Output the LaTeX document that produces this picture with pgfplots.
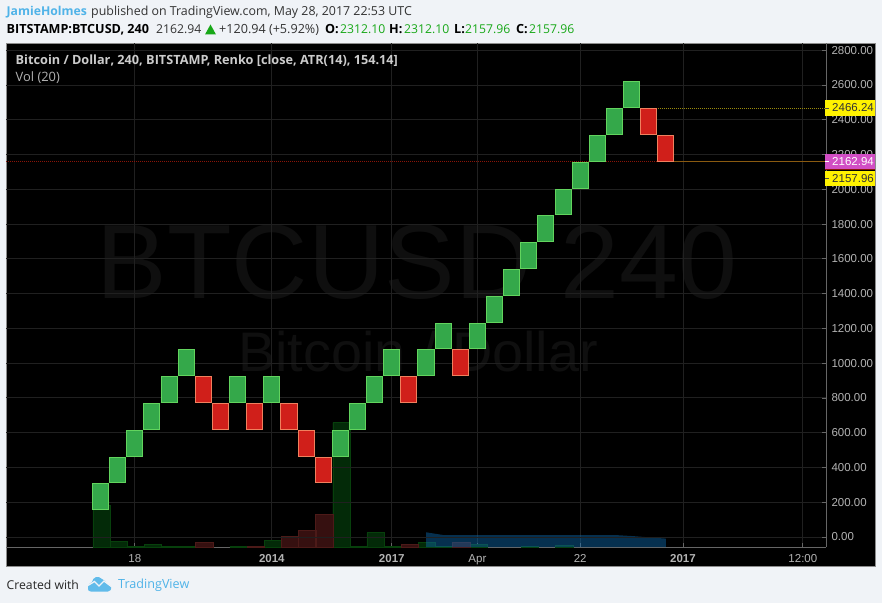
\documentclass[border=0pt]{standalone}
\usepackage{fontspec}
\setmainfont{Open Sans}
\newfontfamily\arial{Liberation Sans}
\usepackage{pgfplots}
\usepackage{pgfplotstable}
\pgfplotsset{compat=1.18}

\definecolor{pagebg}{HTML}{F0F3F7}
\definecolor{gridc}{HTML}{202020}
\definecolor{axisc}{HTML}{666666}
\definecolor{ticktxt}{HTML}{B4B4B4}
\definecolor{upfill}{HTML}{34A84A}
\definecolor{upedge}{HTML}{62D45E}
\definecolor{dnfill}{HTML}{D01F1A}
\definecolor{dnedge}{HTML}{F0805E}
\definecolor{volup}{HTML}{032A08}
\definecolor{volupedge}{HTML}{07400C}
\definecolor{voldn}{HTML}{361010}
\definecolor{voldnedge}{HTML}{4C1A18}
\definecolor{tvblue}{HTML}{4FB3E8}
\definecolor{okgreen}{HTML}{18A818}
\definecolor{magent}{HTML}{D14EC4}
\definecolor{maarea}{HTML}{0E6CB0}
\definecolor{lastline}{HTML}{8A1408}
\definecolor{highline}{HTML}{9A8A0C}
\definecolor{closeline}{HTML}{8A5A10}

% renko bricks: index, low, high (box size 154.14)
\pgfplotstableread{
i low high
0 154.14 308.28
1 308.28 462.42
2 462.42 616.56
3 616.56 770.70
4 770.70 924.84
5 924.84 1078.98
8 770.70 924.84
10 770.70 924.84
14 462.42 616.56
15 616.56 770.70
16 770.70 924.84
17 924.84 1078.98
19 924.84 1078.98
20 1078.98 1233.12
22 1078.98 1233.12
23 1233.12 1387.26
24 1387.26 1541.40
25 1541.40 1695.54
26 1695.54 1849.68
27 1849.68 2003.82
28 2003.82 2157.96
29 2157.96 2312.10
30 2312.10 2466.24
31 2466.24 2620.38
}\upbricks
\pgfplotstableread{
i low high
6 770.70 924.84
7 616.56 770.70
9 616.56 770.70
11 616.56 770.70
12 462.42 616.56
13 308.28 462.42
18 770.70 924.84
21 924.84 1078.98
32 2312.10 2466.24
33 2157.96 2312.10
}\downbricks

% volume, arbitrary units read off the panel
\pgfplotstableread{
i vol
0 42
1 5.4
2 1
3 2.7
4 1
5 1
8 1
10 6.7
14 124.4
15 1
16 14.4
17 1
19 4.7
20 1
22 2.7
25 1
27 2
}\volup
\pgfplotstableread{
i vol
6 4.7
9 1
11 10.4
12 16.7
13 32.4
18 2.7
21 4.7
}\voldown
\pgfplotstableread{
i ma
19 14.7
20 12
21 12
22 12
23 12
24 12
25 12
26 12
27 12
28 12
29 12
30 12
31 11
32 9.7
33 8.4
}\volma

\pgfdeclareplotmark{renko}{%
  \pgfpathrectangle{\pgfpoint{-8.05pt}{-12.9pt}}{\pgfpoint{16.1pt}{25.8pt}}%
  \pgfusepathqfillstroke}

\pgfplotsset{panel/.style={
  scale only axis, width=820pt, height=504pt,
  at={(6pt,56pt)}, anchor=south west,
  xmin=-5.52, xmax=42.35,
  tick style={axisc, line width=0.8pt},
  major tick length=4pt,
  axis line style={axisc, line width=1pt, -},
  grid style={gridc, line width=0.9pt},
}}

\newcommand{\lab}[4][12.2]{\node[anchor=west, inner sep=0pt, text=#4, font=\fontsize{#1}{15}\selectfont] at (#2) {#3};}
\newcommand{\blab}[2]{\node[anchor=west, inner sep=0pt, text=black, font=\fontsize{12.6}{15}\selectfont\bfseries] at (#1) {#2};}
\tikzset{px/.style={x=1pt, y=-1pt, yshift=603pt}}

\begin{document}
\begin{tikzpicture}
\begin{scope}[px]
\fill[pagebg] (0,0) rectangle (882,603);
\fill[black, draw=gray!90] (6.5,43.5) rectangle (875.5,566);

% watermark
\node[text=white!6!black, font=\arial\fontsize{105.7}{110}\selectfont, inner sep=0pt] at (417,262) {BTCUSD 240};
\node[text=white!6!black, font=\arial\fontsize{55.8}{60}\selectfont, inner sep=0pt] at (418,352) {Bitcoin / Dollar};
\end{scope}

% volume pane, with the time axis
\begin{axis}[panel,
  ymin=0, ymax=504,
  axis x line*=bottom, axis y line=none,
  xtick={2,10,17,22,28,34,41},
  xticklabels={18,\textbf{2014},\textbf{2017},Apr,22,\textbf{2017},12:00},
  xticklabel style={font=\arial\fontsize{11.5}{13}\selectfont, text=ticktxt, yshift=-4pt},
  xmajorgrids,
]
\addplot[ybar, bar width=17.3pt, bar shift=1pt, fill=volup, draw=volupedge] table[x=i, y=vol] {\volup};
\addplot[ybar, bar width=17.3pt, bar shift=1pt, fill=voldn, draw=voldnedge] table[x=i, y=vol] {\voldown};
\addplot[fill=maarea, fill opacity=0.45, draw=none] table[x=i, y=ma] {\volma} \closedcycle;
\end{axis}

% price pane
\begin{axis}[panel,
  ymin=-57.5, ymax=2841.5,
  axis x line=none, axis y line*=right,
  ytick={0,200,...,2800},
  ymajorgrids,
  yticklabel style={font=\arial\fontsize{11.5}{13}\selectfont, text=ticktxt, xshift=2pt,
    /pgf/number format/assume math mode=true,
    /pgf/number format/fixed, /pgf/number format/fixed zerofill,
    /pgf/number format/precision=2, /pgf/number format/1000 sep={}},
]
\addplot[only marks, mark=renko, fill=upfill, draw=upedge, line width=1pt]
  table[x=i, y expr=(\thisrow{low}+\thisrow{high})/2] {\upbricks};
\addplot[only marks, mark=renko, fill=dnfill, draw=dnedge, line width=1pt]
  table[x=i, y expr=(\thisrow{low}+\thisrow{high})/2] {\downbricks};
\addplot[color=lastline, dash pattern=on 1pt off 1pt, line width=0.8pt] coordinates {(-5.52,2162.94) (42.35,2162.94)};
\addplot[color=highline, dash pattern=on 1pt off 1pt, line width=0.8pt] coordinates {(31.95,2466.24) (42.35,2466.24)};
\addplot[color=closeline, line width=0.8pt] coordinates {(33.5,2157.96) (42.35,2157.96)};
\end{axis}

\begin{scope}[px]
% last value tags
\fill[yellow] (825,100) rectangle (875,115.7);
\fill[magent] (825,154) rectangle (875,169);
\fill[yellow] (825,170.7) rectangle (875,186);
\draw[lastline, line width=0.8pt] (825,169.6) -- (875,169.6);
\node[font=\arial\fontsize{11.5}{13}\selectfont, text=black!80, inner sep=0pt] at (853,108) {2466.24};
\node[font=\arial\fontsize{11.5}{13}\selectfont, text=white, inner sep=0pt] at (853,161.5) {2162.94};
\node[font=\arial\fontsize{11.5}{13}\selectfont, text=black!80, inner sep=0pt] at (853,178.5) {2157.96};
\draw[black!70, line width=0.8pt] (825,108) -- (829,108) (825,178.5) -- (829,178.5);
\draw[white, line width=0.8pt] (825,161.5) -- (829,161.5);

% pane legend
\node[anchor=west, inner sep=0pt, text=white!80!black, font=\fontsize{12.7}{14}\selectfont\bfseries] at (15.5,61) {Bitcoin / Dollar, 240, BITSTAMP, Renko [close, ATR(14), 154.14]};
\node[anchor=west, inner sep=0pt, text=white!70!black, font=\fontsize{12.9}{14}\selectfont] at (15.5,77.5) {Vol (20)};

% header
\node[anchor=west, inner sep=0pt, text=tvblue, font=\fontsize{12.2}{15}\selectfont\bfseries] at (6.5,12) {JamieHolmes};
\lab[12.4]{91,12}{published on TradingView.com, May 28, 2017 22:53 UTC}{black!80}
\blab{6.5,29.5}{BITSTAMP:BTCUSD, 240}
\lab{156,29.5}{2162.94}{black!80}
\fill[okgreen] (205,34.5) -- (210.5,24.5) -- (216,34.5) -- cycle;
\lab[12.6]{219,29.5}{+120.94 (+5.92\%)}{black!80}
\blab{325,29.5}{O:}
\lab{340,29.5}{2312.10}{okgreen}
\blab{389,29.5}{H:}
\lab{404,29.5}{2312.10}{okgreen}
\blab{454,29.5}{L:}
\lab{465,29.5}{2157.96}{okgreen}
\blab{516,29.5}{C:}
\lab{529,29.5}{2157.96}{okgreen}
\lab{6.5,585}{Created with}{black!85}
\lab[12.6]{118,585}{TradingView}{tvblue}

% logo
\fill[tvblue!90] (88,589) .. controls (87,584) and (91,583) .. (92,582)
  .. controls (93,577) and (98,575) .. (102,579)
  .. controls (105,580) and (106,582) .. (107,584)
  .. controls (112,584) and (113,591) .. (108,591.5) -- (91,591.5) .. controls (89,591.5) and (88,590.5) .. (88,589) -- cycle;
\draw[pagebg, line width=1.3pt] (87,586) -- (94.5,581.5) -- (99,586) -- (104,581) -- (112,587);
\end{scope}
\end{tikzpicture}
\end{document}
